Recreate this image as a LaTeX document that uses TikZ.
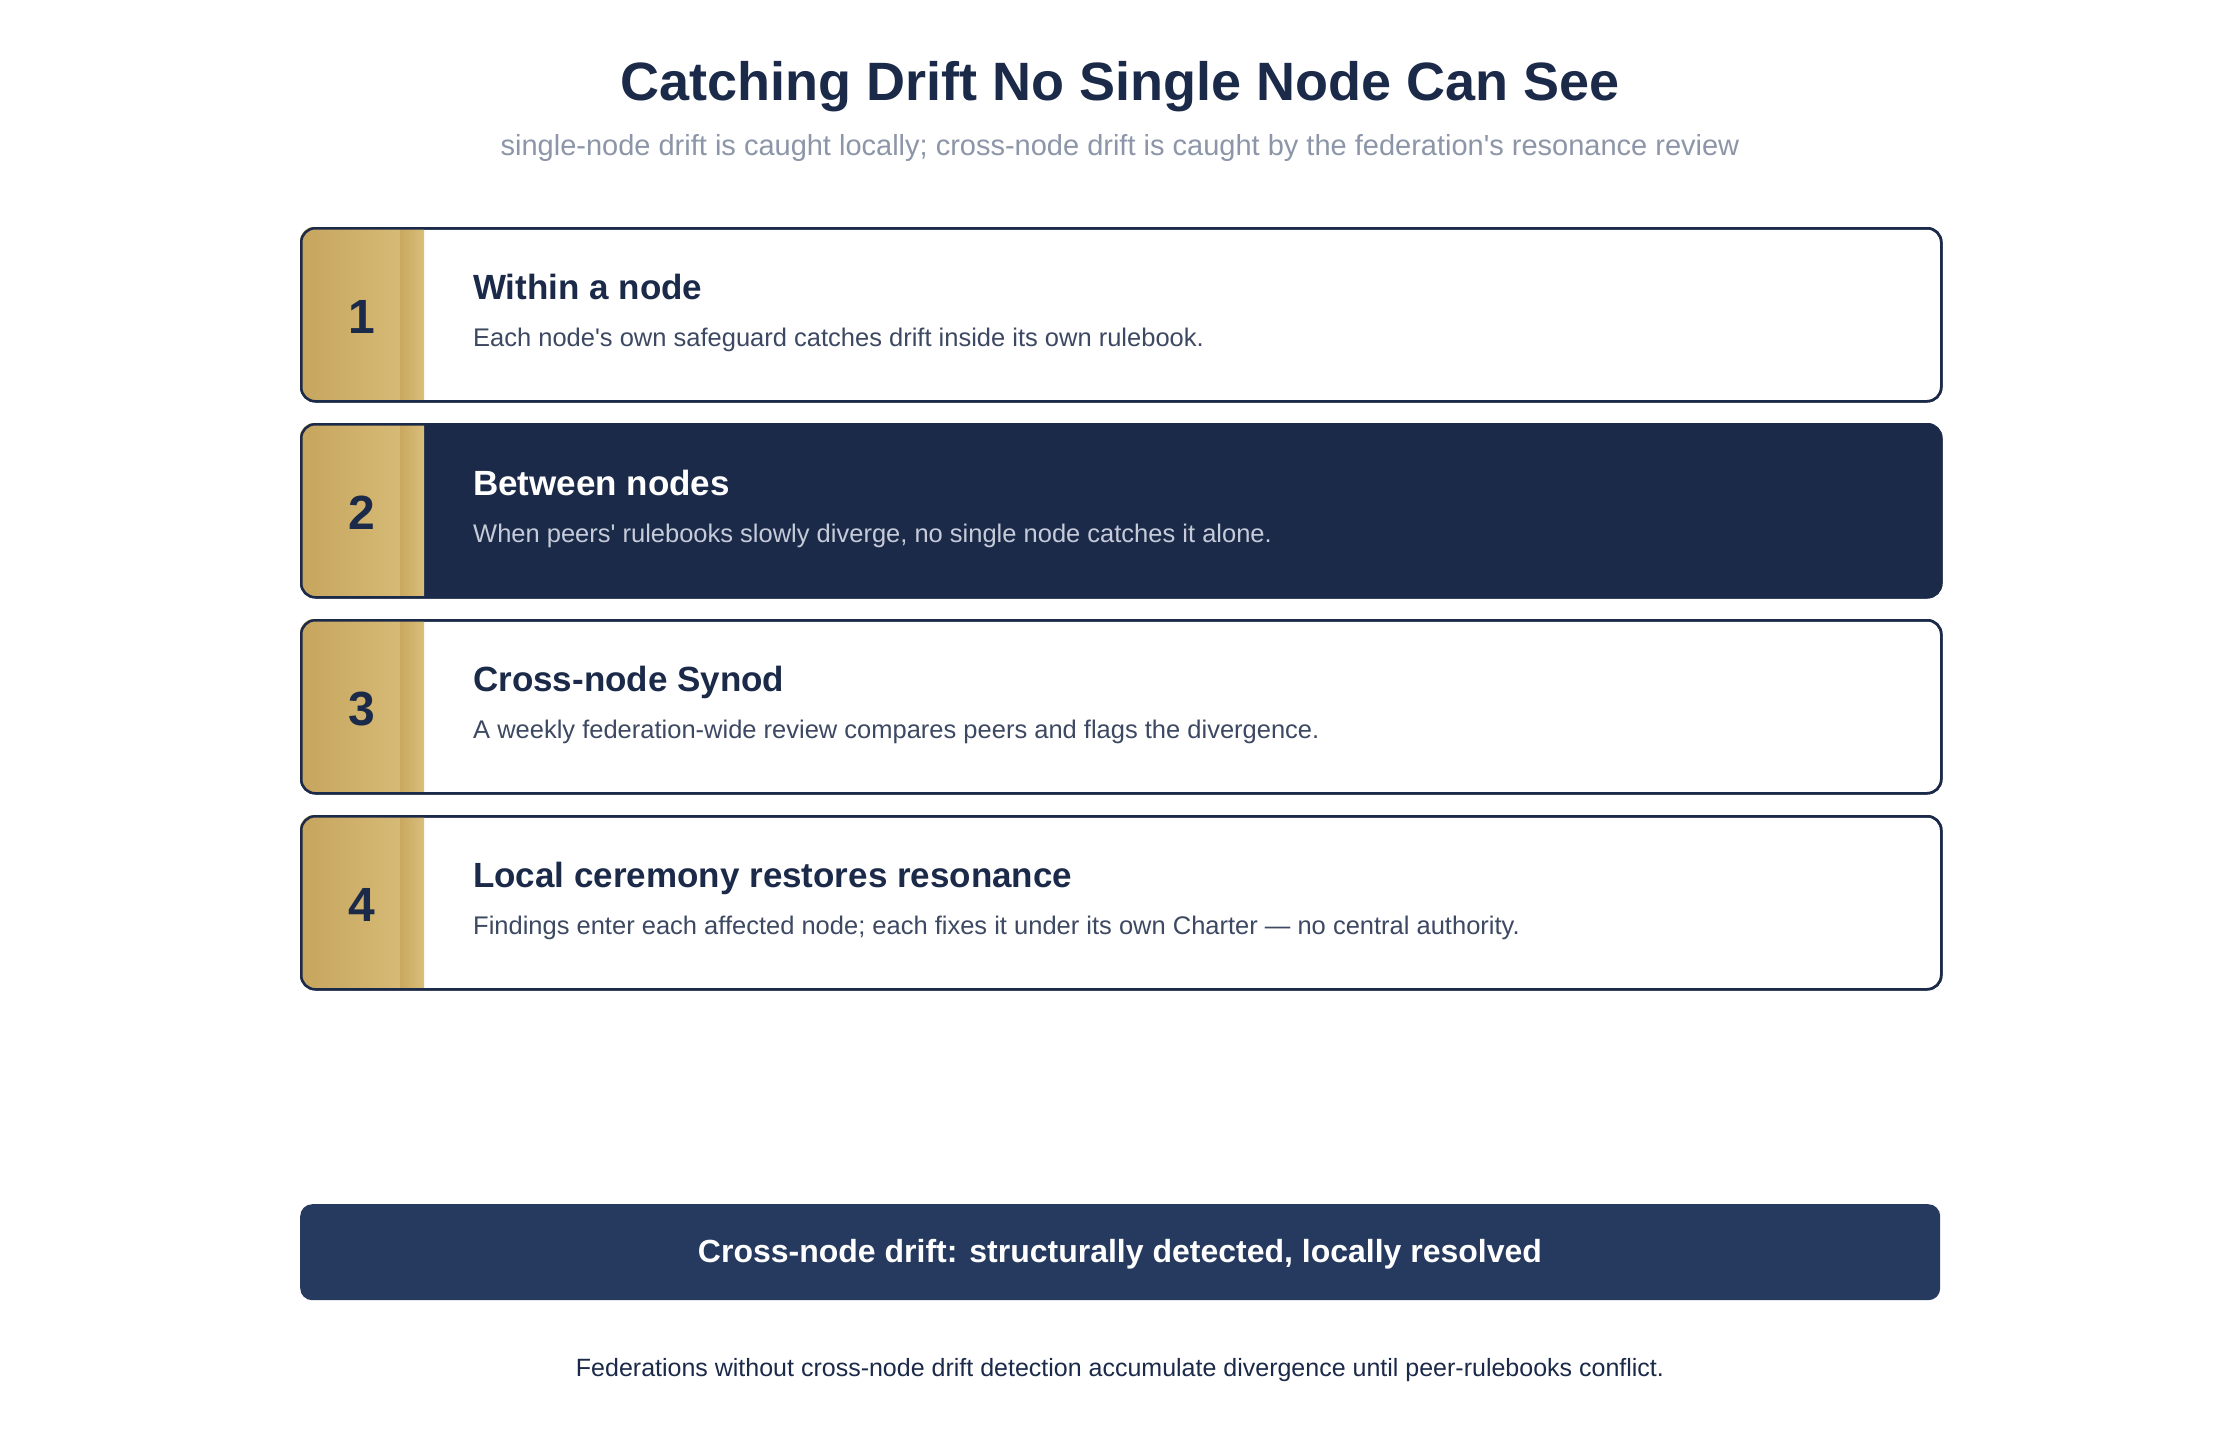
\documentclass[tikz,border=0pt]{standalone}
\usepackage{fontspec}
\setmainfont{Liberation Sans}
\definecolor{navy}{HTML}{1C2A4A}
\definecolor{bannerc}{HTML}{26395F}
\definecolor{goldA}{HTML}{C6A55E}
\definecolor{goldB}{HTML}{D6BA75}
\definecolor{goldC}{HTML}{C9A85F}
\definecolor{goldD}{HTML}{D9BF7B}
\definecolor{descc}{HTML}{3D4862}
\definecolor{subc}{HTML}{8C96A8}
\definecolor{descw}{HTML}{C5CBD8}
\tikzset{
  rowbox/.style={draw=navy, line width=2.5pt, rounded corners=14pt, minimum width=1640pt, minimum height=173pt, anchor=north west, inner sep=0pt},
  numtxt/.style={anchor=base, inner sep=0pt, text=navy, font=\fontsize{48}{56}\selectfont\bfseries},
  ttltxt/.style={anchor=base west, inner sep=0pt, font=\fontsize{35}{40}\selectfont\bfseries},
  dsctxt/.style={anchor=base west, inner sep=0pt, font=\fontsize{25.5}{30}\selectfont},
}
\newcommand{\goldstrip}[1]{%
  \begin{scope}
    \clip[rounded corners=14pt] (300,#1) rectangle (1940,#1+173);
    \shade[left color=goldA, right color=goldB] (300,#1) rectangle (400,#1+173);
    \shade[left color=goldC, right color=goldD] (400,#1) rectangle (424,#1+173);
  \end{scope}}
\begin{document}
\begin{tikzpicture}[x=1pt,y=-1pt]
\useasboundingbox[fill=white] (0,0) rectangle (2240,1440);
% title
\node[anchor=base, inner sep=0pt, text=navy, font=\fontsize{54}{60}\selectfont\bfseries] (title) at (1120,100) {Catching Drift No Single Node Can See};
\node[anchor=base, inner sep=0pt, text=subc, font=\fontsize{29}{34}\selectfont] (subtitle) at (1120,155) {single-node drift is caught locally; cross-node drift is caught by the federation\textquotesingle s resonance review};
% row 1
\node[rowbox, fill=white] (r1) at (300,227) {};
\goldstrip{227}
\node[rowbox] (r1b) at (300,227) {};
\node[numtxt] (n1) at (362,333) {1};
\node[ttltxt, text=navy] (t1) at (473,299) {Within a node};
\node[dsctxt, text=descc] (d1) at (473,346) {Each node\textquotesingle s own safeguard catches drift inside its own rulebook.};
% row 2
\node[rowbox, fill=navy] (r2) at (300,423) {};
\goldstrip{423}
\node[rowbox] (r2b) at (300,423) {};
\node[numtxt] (n2) at (362,529) {2};
\node[ttltxt, text=white] (t2) at (473,495) {Between nodes};
\node[dsctxt, text=descw] (d2) at (473,542) {When peers\textquotesingle\ rulebooks slowly diverge, no single node catches it alone.};
% row 3
\node[rowbox, fill=white] (r3) at (300,619) {};
\goldstrip{619}
\node[rowbox] (r3b) at (300,619) {};
\node[numtxt] (n3) at (362,725) {3};
\node[ttltxt, text=navy] (t3) at (473,691) {Cross-node Synod};
\node[dsctxt, text=descc] (d3) at (473,738) {A weekly federation-wide review compares peers and flags the divergence.};
% row 4
\node[rowbox, fill=white] (r4) at (300,815) {};
\goldstrip{815}
\node[rowbox] (r4b) at (300,815) {};
\node[numtxt] (n4) at (362,921) {4};
\node[ttltxt, text=navy] (t4) at (473,887) {Local ceremony restores resonance};
\node[dsctxt, text=descc] (d4) at (473,934) {Findings enter each affected node; each fixes it under its own Charter — no central authority.};
% banner
\node[fill=bannerc, rounded corners=12pt, minimum width=1640pt, minimum height=96pt, anchor=north west, inner sep=0pt] (banner) at (300,1204) {};
\node[anchor=base, inner sep=0pt, text=white, font=\fontsize{32}{38}\selectfont\bfseries] (bannertxt) at (1120,1262) {Cross-node drift: structurally detected, locally resolved};
% footer
\node[anchor=base, inner sep=0pt, text=navy, font=\fontsize{25}{30}\selectfont] (footer) at (1120,1376) {Federations without cross-node drift detection accumulate divergence until peer-rulebooks conflict.};
\end{tikzpicture}
\end{document}
